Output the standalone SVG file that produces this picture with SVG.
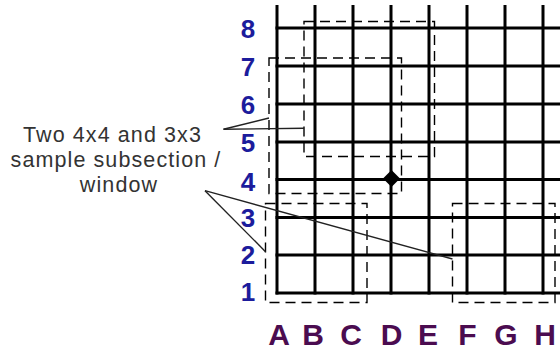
<svg xmlns="http://www.w3.org/2000/svg" width="560" height="352" viewBox="0 0 560 352">
<style>
.grid{stroke:#000;stroke-width:3;fill:none}
.win{stroke:#000;stroke-width:1.4;fill:none;stroke-dasharray:10 6}
.lead{stroke:#222;stroke-width:1.4;fill:none}
.row{font-family:"Liberation Sans",Arial,sans-serif;font-weight:bold;font-size:26px;fill:#1c1c9c;text-anchor:middle}
.col{font-family:"Liberation Sans",Arial,sans-serif;font-weight:bold;font-size:30px;fill:#4b0c50;text-anchor:middle}
.lbl{font-family:"Liberation Sans",Arial,sans-serif;font-size:21.5px;fill:#333;text-anchor:middle;letter-spacing:1.1px}
</style>
<rect width="560" height="352" fill="#fff"/>
<g id="grid" class="grid">
<line x1="277" y1="5" x2="277" y2="294.5"/>
<line x1="315" y1="5" x2="315" y2="294.5"/>
<line x1="353" y1="5" x2="353" y2="294.5"/>
<line x1="391" y1="5" x2="391" y2="294.5"/>
<line x1="429" y1="5" x2="429" y2="294.5"/>
<line x1="467" y1="5" x2="467" y2="294.5"/>
<line x1="505" y1="5" x2="505" y2="294.5"/>
<line x1="543" y1="5" x2="543" y2="294.5"/>
<line x1="275.5" y1="28" x2="560" y2="28"/>
<line x1="275.5" y1="66" x2="560" y2="66"/>
<line x1="275.5" y1="104" x2="560" y2="104"/>
<line x1="275.5" y1="142" x2="560" y2="142"/>
<line x1="275.5" y1="179.5" x2="560" y2="179.5"/>
<line x1="275.5" y1="217.5" x2="560" y2="217.5"/>
<line x1="275.5" y1="255" x2="560" y2="255"/>
<line x1="275.5" y1="293" x2="560" y2="293"/>
</g>
<g id="windows">
<rect id="win-top-4x4" class="win" x="304" y="21.5" width="130.5" height="135"/>
<rect id="win-mid" class="win" x="269" y="58" width="132.5" height="135.5"/>
<rect id="win-bottom-left" class="win" x="265.5" y="203.5" width="101.5" height="99"/>
<rect id="win-bottom-right" class="win" x="452.5" y="203.5" width="102.5" height="99"/>
</g>
<g id="point-D4">
<polygon points="391.5,170 400,178.5 391.5,187 383,178.5" fill="#000"/>
</g>
<g id="connectors" class="lead">
<line x1="223.5" y1="129.3" x2="269" y2="118"/>
<line x1="223.5" y1="129.3" x2="304" y2="128.3"/>
<line x1="205" y1="190.7" x2="452.5" y2="259"/>
<line x1="205" y1="190.7" x2="265.5" y2="251.7"/>
</g>
<g id="label">
<text class="lbl" x="112.5" y="142">Two 4x4 and 3x3</text>
<text class="lbl" x="116" y="167">sample subsection /</text>
<text class="lbl" x="119" y="192">window</text>
</g>
<g id="row-labels">
<text class="row" x="248" y="37.5">8</text>
<text class="row" x="248" y="75.5">7</text>
<text class="row" x="248" y="113.5">6</text>
<text class="row" x="248" y="151.5">5</text>
<text class="row" x="248" y="190.5">4</text>
<text class="row" x="248" y="226.5">3</text>
<text class="row" x="248" y="263.5">2</text>
<text class="row" x="248" y="300.5">1</text>
</g>
<g id="col-labels">
<text class="col" x="279" y="345">A</text>
<text class="col" x="313" y="345">B</text>
<text class="col" x="351" y="345">C</text>
<text class="col" x="391.5" y="345">D</text>
<text class="col" x="428" y="345">E</text>
<text class="col" x="467.5" y="345">F</text>
<text class="col" x="506" y="345">G</text>
<text class="col" x="545" y="345">H</text>
</g>
</svg>
